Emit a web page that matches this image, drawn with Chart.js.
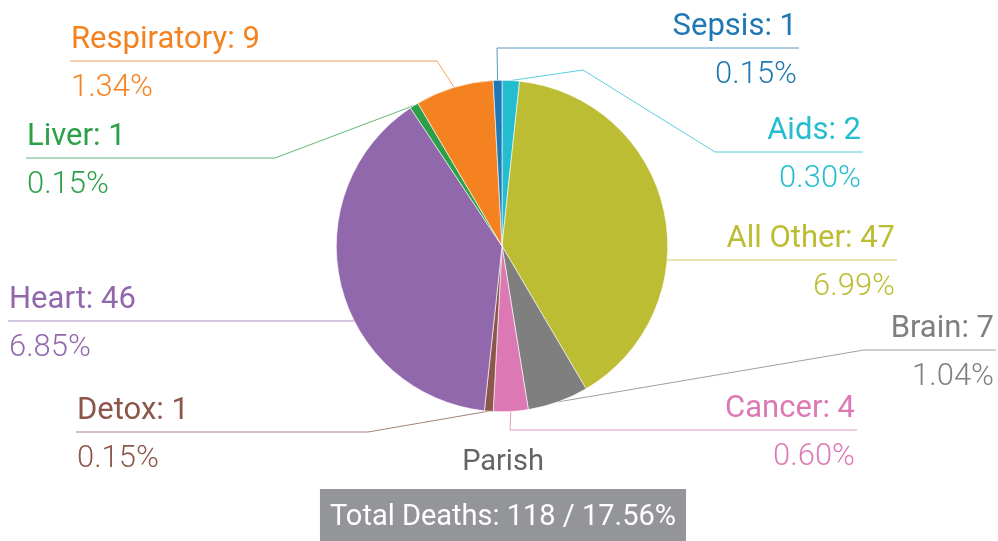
<!DOCTYPE html>
<html>
<head>
<meta charset="utf-8">
<script src="https://cdn.jsdelivr.net/npm/chart.js@4"></script>
<style>
    html, body { margin: 0; padding: 0; background: #fff; }
    #wrap { width: 998px; height: 541px; }
</style>
</head>
<body>
<div id="wrap"><canvas id="graphique-parish"></canvas></div>
<script>
// data
const categories = ["Aids", "All Other", "Brain", "Cancer", "Detox", "Heart", "Liver", "Respiratory", "Sepsis"];
const deaths = [2, 47, 7, 4, 1, 46, 1, 9, 1];
const pourcentages = ["0.30%", "6.99%", "1.04%", "0.60%", "0.15%", "6.85%", "0.15%", "1.34%", "0.15%"];
const couleurs = ["#24bdd0", "#bcbd32", "#7f7f7f", "#dc79b4", "#8c564b", "#9268ad", "#2ca048", "#f58220", "#1f77b4"];
const titre = "Parish";
const totalTexte = "Total Deaths: 118 / 17.56%";

// leader line path for each label (after the anchor on the slice edge)
const leaderPaths = [
    [[583, 70], [715, 152], [863, 152]],
    [[660, 260], [897, 260]],
    [[864, 350], [996, 350]],
    [[510, 430], [857, 430]],
    [[368, 432], [76, 432]],
    [[360, 321], [8, 321]],
    [[275, 158], [26, 158]],
    [[437, 61], [70, 61]],
    [[497, 48], [799, 48]]
];

const police = "Roboto, 'Noto Sans', sans-serif";
const policeFine = "'Roboto Light', Roboto, 'Noto Sans', sans-serif";

// lines go under the pie so the part inside the slices is hidden
const pluginLignes = {
    id: "lignes",
    beforeDatasetsDraw(chart) {
        const ctx = chart.ctx;
        const arcs = chart.getDatasetMeta(0).data;
        ctx.save();
        ctx.lineWidth = 1;
        for (let i = 0; i < arcs.length; i++) {
            const arc = arcs[i];
            const mid = (arc.startAngle + arc.endAngle) / 2;
            const x0 = arc.x + Math.cos(mid) * arc.outerRadius;
            const y0 = arc.y + Math.sin(mid) * arc.outerRadius;
            ctx.strokeStyle = couleurs[i];
            ctx.globalAlpha = 0.75;
            ctx.beginPath();
            ctx.moveTo(x0, y0);
            for (const p of leaderPaths[i]) {
                ctx.lineTo(p[0], p[1]);
            }
            ctx.stroke();
        }
        ctx.restore();
    },
    afterDraw(chart) {
        const ctx = chart.ctx;
        const arcs = chart.getDatasetMeta(0).data;
        ctx.save();
        ctx.textBaseline = "alphabetic";
        for (let i = 0; i < arcs.length; i++) {
            const arc = arcs[i];
            const path = leaderPaths[i];
            const fin = path[path.length - 1];
            const gauche = fin[0] < arc.x;
            const tx = gauche ? fin[0] + 1 : fin[0] - 2;
            ctx.textAlign = gauche ? "left" : "right";
            ctx.fillStyle = couleurs[i];
            ctx.font = "400 31px " + police;
            ctx.fillText(categories[i] + ": " + deaths[i], tx, fin[1] - 13);
            ctx.font = "300 31px " + policeFine;
            ctx.fillText(pourcentages[i], tx, fin[1] + 35);
        }

        const cx = arcs[0].x;
        // titre
        ctx.textAlign = "center";
        ctx.fillStyle = "#626466";
        ctx.font = "400 29px " + police;
        ctx.fillText(titre, cx + 1, 470);

        // total box
        ctx.font = "400 29px " + police;
        const w = ctx.measureText(totalTexte).width + 20;
        ctx.fillStyle = "#939598";
        ctx.fillRect(cx + 1 - w / 2, 489, w, 52);
        ctx.fillStyle = "#ffffff";
        ctx.fillText(totalTexte, cx + 1, 525);
        ctx.restore();
    }
};

const data = {
    labels: categories,
    datasets: [{
        data: deaths,
        backgroundColor: couleurs,
        borderColor: "#ffffff",
        borderWidth: 0.6
    }]
};

const config = {
    type: "pie",
    data: data,
    options: {
        responsive: false,
        animation: false,
        layout: {
            padding: { top: 80, bottom: 129, left: 336, right: 330 }
        },
        plugins: {
            legend: { display: false },
            tooltip: { enabled: false }
        }
    },
    plugins: [pluginLignes]
};

const canvas = document.querySelector("#graphique-parish");
canvas.width = 998;
canvas.height = 541;
new Chart(canvas, config);
</script>
</body>
</html>
